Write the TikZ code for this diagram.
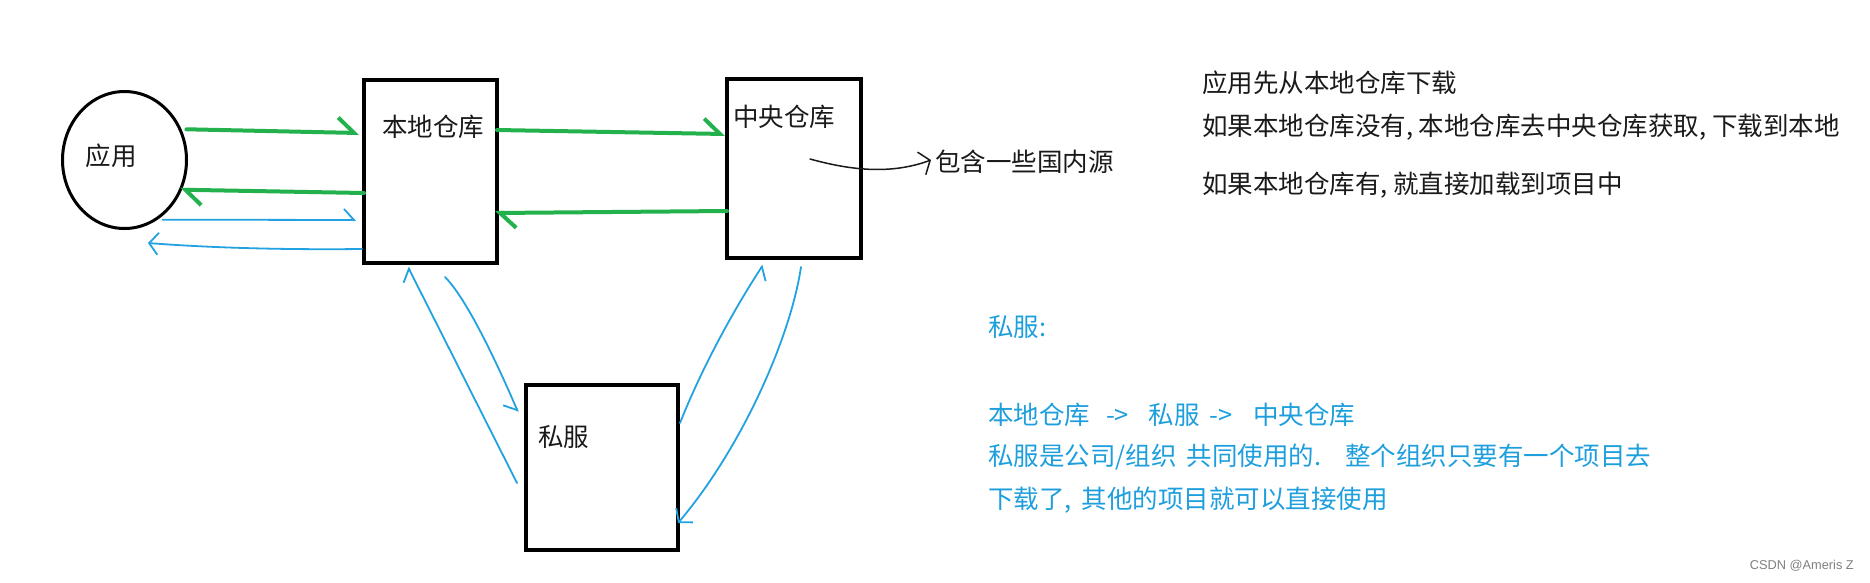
\documentclass[tikz,border=0pt]{standalone}
\usepackage{fontspec}
\setmainfont{Noto Sans CJK SC}
\newfontfamily\wmfont{Liberation Sans}
\usetikzlibrary{arrows.meta,calc,shapes.geometric}
\definecolor{pgreen}{HTML}{22B14C}
\definecolor{pblue}{HTML}{22A2E0}
\definecolor{tblue}{HTML}{1E9FDD}
\definecolor{ink}{HTML}{1A1A1A}
\begin{document}
\begin{tikzpicture}[x=1pt,y=-1pt,
  box/.style={draw=black, line width=4pt, rectangle, inner sep=0pt, outer sep=0pt},
  lbl/.style={inner sep=0pt, outer sep=0pt, anchor=west, text=ink, font=\fontsize{25.5}{30}\selectfont},
  bnote/.style={lbl, text=tblue},
  garrow/.style={draw=pgreen, line width=4pt, line cap=round, line join=round, -{Straight Barb[length=16pt,width=30pt,left]}},
  barrowl/.style={draw=pblue, line width=1.8pt, line cap=round, line join=round, -{Straight Barb[length=10pt,width=22pt,left]}},
  barrowr/.style={draw=pblue, line width=1.8pt, line cap=round, line join=round, -{Straight Barb[length=10pt,width=22pt,right]}},
  barrowf/.style={draw=pblue, line width=1.8pt, line cap=round, line join=round, -{Straight Barb[length=9pt,width=22pt]}},
  karrow/.style={draw=ink, line width=1.5pt, line cap=round, -{Straight Barb[length=9pt,width=24pt]}}
]
\fill[white] (0,0) rectangle (1870,582);
\useasboundingbox (0,0) rectangle (1870,582);

% shapes
\node[draw=black, ellipse, line width=3pt, minimum width=124pt, minimum height=137pt, inner sep=0pt, outer sep=0pt] (app) at (124.5,160) {};
\node[box, minimum width=133pt, minimum height=183pt] (local) at (430.5,171.5) {};
\node[box, minimum width=134pt, minimum height=179pt] (central) at (794,168.5) {};
\node[box, minimum width=152pt, minimum height=165pt] (priv) at (602,467.5) {};

% labels
\node[lbl, anchor=center] (tapp) at (111,156) {应用};
\node[lbl] (tlocal) at (382,127) {本地仓库};
\node[lbl] (tcentral) at (733,117) {中央仓库};
\node[lbl] (tpriv) at (538,437) {私服};
\node[lbl] (tsrc) at (935,162) {包含一些国内源};

\node[lbl] (n1) at (1202,83) {应用先从本地仓库下载};
\node[lbl] (n2) at (1202,127) {如果本地仓库没有, 本地仓库去中央仓库获取, 下载到本地};
\node[lbl] (n3) at (1202,185) {如果本地仓库有, 就直接加载到项目中};

\node[bnote] (b1) at (988,327) {私服:};
\node[bnote] (b2) at (988,415) {本地仓库\hspace{16pt}->\hspace{20pt}私服\hspace{10pt}->\hspace{20pt}中央仓库};
\node[bnote] (b3) at (988,457) {私服是公司/组织\hspace{10pt}共同使用的.\hspace{24pt}整个组织只要有一个项目去};
\node[bnote] (b4) at (988,500) {下载了,\hspace{10pt}其他的项目就可以直接使用};

\node[font=\wmfont\fontsize{12.8}{15}\selectfont, text=gray, anchor=east, inner sep=0pt] (csdn) at (1854,566) {CSDN @Ameris Z};

% green connectors
\draw[garrow] ($(app.30)+(7,1)$) -- ($(local.west)+(-5,-38.5)$);
\draw[garrow] ($(local.west)+(0,21.5)$) -- (app.-28);
\draw[garrow] ($(local.east)+(0,-41.5)$) -- ($(central.west)+(-2,-34.5)$);
\draw[garrow] ($(central.west)+(0,42.5)$) -- ($(local.east)+(-2,41.5)$);

% blue connectors app <-> local
\coordinate (appback) at ($(app.south)+(23.5,14.5)$);
\draw[barrowl] ($(app.-57)+(2,4)$) -- ($(local.west)+(-8,48.5)$);
\draw[barrowf] ($(local.west)+(-2,77.5)$) .. controls (270,250) and (200,247) .. (appback);

% blue connectors local <-> priv
\draw[barrowl] ($(priv.west)+(-9,15.5)$) -- ($(local.south)+(-22.5,4)$);
\draw[barrowr] ($(local.south)+(14.5,14)$) .. controls (468,300) and (500,370) .. ($(priv.west)+(-8,-55.5)$);

% blue connectors priv <-> central
\draw[barrowr] ($(priv.east)+(2,-44.5)$) .. controls (705,360) and (740,300) .. ($(central.south)+(-31,7)$);
\draw[barrowf] ($(central.south)+(7,9)$) .. controls (790,340) and (740,450) .. ($(priv.east)+(0,55.5)$);

% note arrow
\draw[karrow] ($(central.center)+(16,-9.5)$) .. controls (850,170) and (890,175) .. ($(tsrc.west)+(-4,-2)$);
\end{tikzpicture}
\end{document}
